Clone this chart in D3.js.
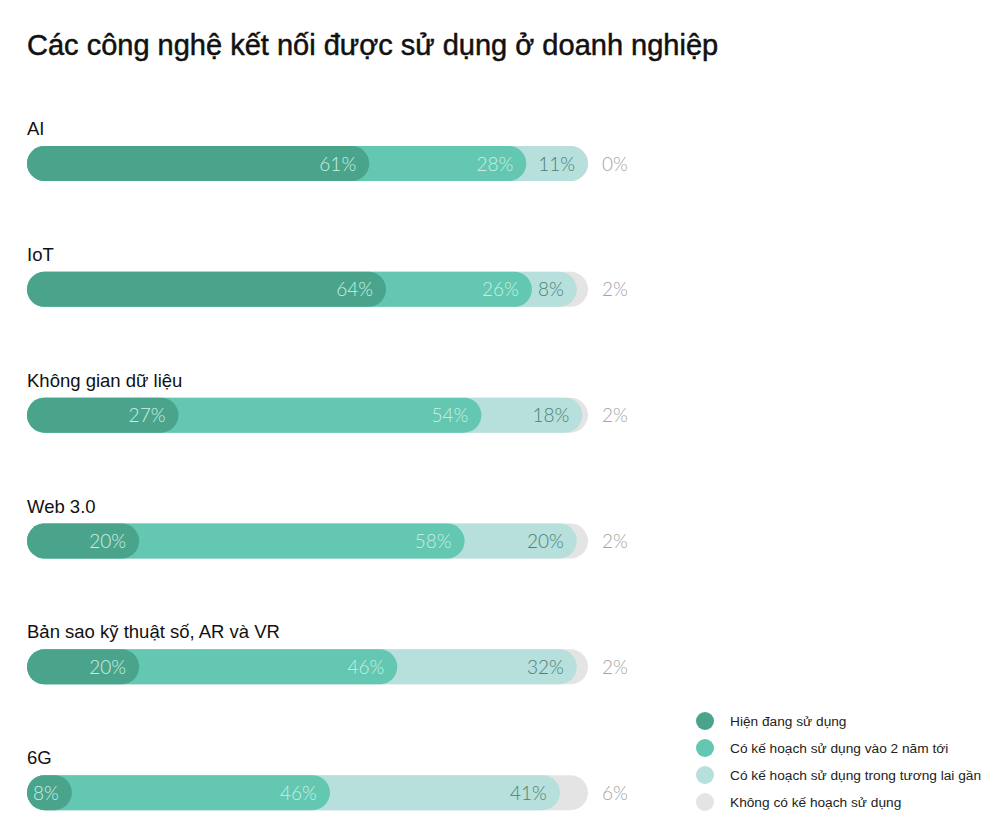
<!DOCTYPE html>
<html>
<head>
<meta charset="utf-8">
<script src="https://cdn.jsdelivr.net/npm/d3@7"></script>
<style>
  body { margin: 0; background: #fff; }
  svg { display: block; }
</style>
</head>
<body>
<script>
'use strict';
// data
const categories = ["AI", "IoT", "Không gian dữ liệu", "Web 3.0", "Bản sao kỹ thuật số, AR và VR", "6G"];
const dangSuDung = [61, 64, 27, 20, 20, 8];
const hai_namToi = [28, 26, 54, 58, 46, 46];
const tuongLai = [11, 8, 18, 20, 32, 41];
const khongCo = [0, 2, 2, 2, 2, 6];
const seriesNames = ["Hiện đang sử dụng", "Có kế hoạch sử dụng vào 2 năm tới", "Có kế hoạch sử dụng trong tương lai gần", "Không có kế hoạch sử dụng"];
const colors = ["#4aa48b", "#63c7b1", "#b7dfdb", "#e4e4e4"];
const textColors = ["#c9f0e4", "#c9f0e4", "#4c7f76", "#a3a3a3"];

const width = 1000, height = 835;
const svg = d3.select("body").append("svg").attr("width", width).attr("height", height);

svg.append("text")
    .attr("x", 27).attr("y", 55)
    .attr("font-family", "Liberation Sans, Arial, sans-serif")
    .attr("font-size", 29)
    .attr("fill", "#111")
    .attr("stroke", "#111")
    .attr("stroke-width", 0.5)
    .text("Các công nghệ kết nối được sử dụng ở doanh nghiệp");

const x = d3.scaleLinear().domain([0, 100]).range([27, 588]);
const y = d3.scaleBand().domain(categories).range([100, 855]).paddingInner(0);
const barH = 35;

const rows = svg.selectAll(".row")
    .data(categories.map((c, i) => ({ name: c, vals: [dangSuDung[i], hai_namToi[i], tuongLai[i], khongCo[i]] })))
    .enter().append("g")
    .attr("class", "row")
    .attr("transform", d => `translate(0, ${y(d.name)})`);

// category label
rows.append("text")
    .attr("x", 27).attr("y", 35)
    .attr("font-family", "Liberation Sans, Arial, sans-serif")
    .attr("font-size", 18.5)
    .attr("fill", "#111")
    .text(d => d.name);

const barTop = 46;

rows.each(function (d) {
    const g = d3.select(this);
    let cum = [];
    let s = 0;
    d.vals.slice(0, 3).forEach(v => { s += v; cum.push(s); });
    // background grey to 100%
    g.append("rect")
        .attr("x", x(0)).attr("y", barTop)
        .attr("width", x(100) - x(0)).attr("height", barH)
        .attr("rx", barH / 2).attr("fill", colors[3]);
    // stacked pills drawn back to front
    for (let k = 2; k >= 0; k--) {
        g.append("rect")
            .attr("x", x(0)).attr("y", barTop)
            .attr("width", Math.max(barH, x(cum[k]) - x(0))).attr("height", barH)
            .attr("rx", barH / 2).attr("fill", colors[k]);
    }
    for (let k = 0; k < 3; k++) {
        g.append("text")
            .attr("x", x(cum[k]) - 13).attr("y", barTop + barH / 2 + 7)
            .attr("text-anchor", "end")
            .attr("font-family", "Lato, sans-serif")
            .attr("font-weight", 300)
            .attr("font-size", 19)
            .attr("fill", textColors[k])
            .text(d.vals[k] + "%");
    }
    g.append("text")
        .attr("x", x(100) + 14).attr("y", barTop + barH / 2 + 7)
        .attr("font-family", "Lato, sans-serif")
        .attr("font-weight", 300)
        .attr("font-size", 19)
        .attr("fill", textColors[3])
        .text(d.vals[3] + "%");
});

// legend
const legend = svg.append("g").attr("transform", "translate(705, 721)");
const li = legend.selectAll("g").data(seriesNames).enter().append("g")
    .attr("transform", (d, i) => `translate(0, ${i * 27})`);
li.append("circle").attr("r", 9).attr("fill", (d, i) => colors[i]);
li.append("text")
    .attr("x", 25).attr("y", 5)
    .attr("font-family", "Liberation Sans, Arial, sans-serif")
    .attr("font-size", 13.7)
    .attr("fill", "#222")
    .text(d => d);
</script>
</body>
</html>
